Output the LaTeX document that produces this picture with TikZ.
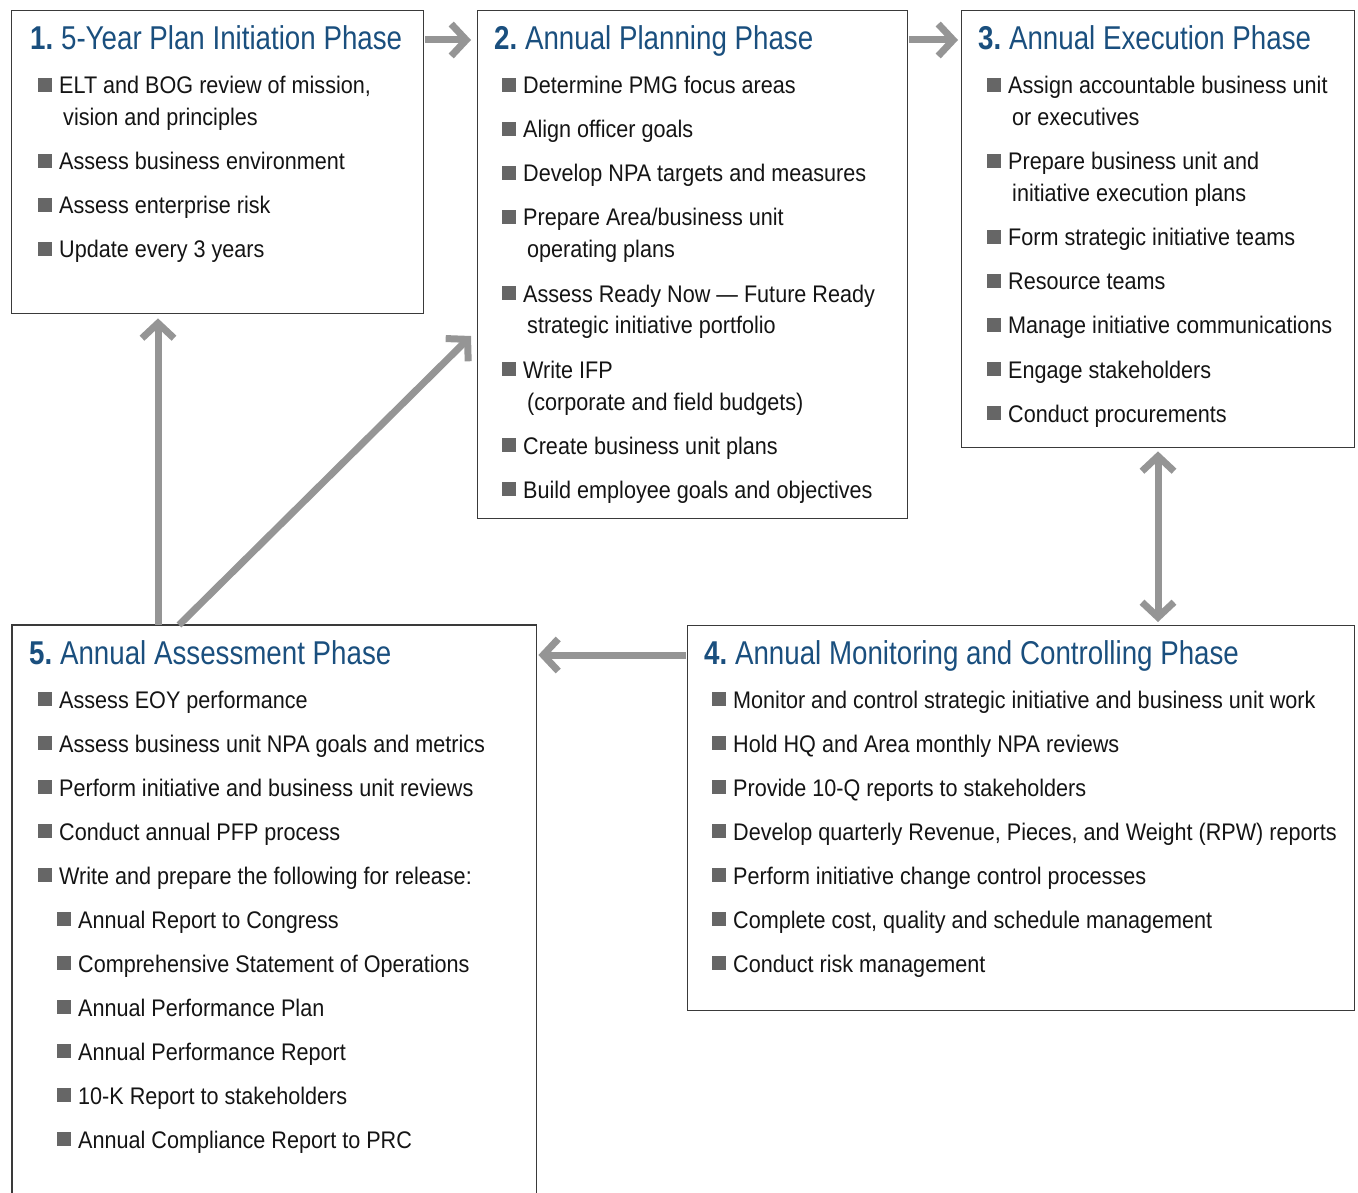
\documentclass[tikz,border=0pt]{standalone}
\usepackage{fontspec}
\setmainfont{Liberation Sans}[FakeStretch=0.9]
\newfontfamily\ttlfont{Liberation Sans}[FakeStretch=0.84]
\usetikzlibrary{arrows.meta,calc}
\definecolor{ttlblue}{HTML}{1A4F7E}
\definecolor{arrgray}{HTML}{959595}
\definecolor{bulgray}{HTML}{666666}
\definecolor{boxline}{HTML}{3A3A3A}
\definecolor{txtblack}{HTML}{141414}
\tikzset{
  box/.style={draw=boxline, line width=1.4pt, inner sep=0pt, anchor=north west},
  txt/.style={inner sep=0pt, anchor=base west, text=txtblack, font=\fontsize{24}{28}\selectfont},
  ttl/.style={inner sep=0pt, anchor=base west, text=ttlblue, font=\ttlfont\fontsize{33}{38}\selectfont},
  arr/.style={draw=arrgray, line width=7pt, -{Straight Barb[length=15pt,width=32pt]}},
  darr/.style={draw=arrgray, line width=7pt, {Straight Barb[length=15pt,width=32pt]}-{Straight Barb[length=15pt,width=32pt]}},
}
\newcommand\bitem[4]{%
  \fill[bulgray] ($(#1,#2)+(0,-2)$) rectangle ++(14,-14);
  \node[txt] (#3) at ($(#1,#2)+(21,0)$) {#4};}
\newcommand\citem[4]{%
  \node[txt] (#3) at ($(#1,#2)+(25,0)$) {#4};}
\newcommand\num[1]{\textbf{#1}\hspace{-2.5pt}}
\begin{document}
\begin{tikzpicture}[x=1pt,y=-1pt]
\useasboundingbox (0,0) rectangle (1358,1193);
% boxes
\node[box, minimum width=412pt, minimum height=303pt] (p1) at (11,10) {};
\node[box, minimum width=430pt, minimum height=508pt] (p2) at (477,10) {};
\node[box, minimum width=393pt, minimum height=437pt] (p3) at (961,10) {};
\node[box, minimum width=667pt, minimum height=385pt] (p4) at (687,625) {};
\node[box, draw=none, minimum width=523pt, minimum height=570pt] (p5) at (12,625) {};
\draw[boxline, line width=1.4pt] (p5.south west) -- (p5.north west) -- (p5.north east) -- (p5.south east);
% titles
\node[ttl] (h1) at (30,50) {\num{1.} 5-Year Plan Initiation Phase};
\node[ttl] (h2) at (494,50) {\num{2.} Annual Planning Phase};
\node[ttl] (h3) at (978,50) {\num{3.} Annual Execution Phase};
\node[ttl] (h4) at (704,664) {\num{4.} Annual Monitoring and Controlling Phase};
\node[ttl] (h5) at (29,664) {\num{5.} Annual Assessment Phase};
% box 1
\bitem{38}{94}{a1}{ELT and BOG review of mission,}
\citem{38}{126}{a1b}{vision and principles}
\bitem{38}{170}{a2}{Assess business environment}
\bitem{38}{214}{a3}{Assess enterprise risk}
\bitem{38}{258}{a4}{Update every 3 years}
% box 2
\bitem{502}{94}{b1}{Determine PMG focus areas}
\bitem{502}{138}{b2}{Align officer goals}
\bitem{502}{182}{b3}{Develop NPA targets and measures}
\bitem{502}{226}{b4}{Prepare Area/business unit}
\citem{502}{258}{b4b}{operating plans}
\bitem{502}{302}{b5}{Assess Ready Now — Future Ready}
\citem{502}{334}{b5b}{strategic initiative portfolio}
\bitem{502}{378}{b6}{Write IFP}
\citem{502}{410}{b6b}{(corporate and field budgets)}
\bitem{502}{454}{b7}{Create business unit plans}
\bitem{502}{498}{b8}{Build employee goals and objectives}
% box 3
\bitem{987}{94}{c1}{Assign accountable business unit}
\citem{987}{126}{c1b}{or executives}
\bitem{987}{170}{c2}{Prepare business unit and}
\citem{987}{202}{c2b}{initiative execution plans}
\bitem{987}{246}{c3}{Form strategic initiative teams}
\bitem{987}{290}{c4}{Resource teams}
\bitem{987}{334}{c5}{Manage initiative communications}
\bitem{987}{378}{c6}{Engage stakeholders}
\bitem{987}{422}{c7}{Conduct procurements}
% box 4
\bitem{712}{708}{d1}{Monitor and control strategic initiative and business unit work}
\bitem{712}{752}{d2}{Hold HQ and Area monthly NPA reviews}
\bitem{712}{796}{d3}{Provide 10-Q reports to stakeholders}
\bitem{712}{840}{d4}{Develop quarterly Revenue, Pieces, and Weight (RPW) reports}
\bitem{712}{884}{d5}{Perform initiative change control processes}
\bitem{712}{928}{d6}{Complete cost, quality and schedule management}
\bitem{712}{972}{d7}{Conduct risk management}
% box 5
\bitem{38}{708}{e1}{Assess EOY performance}
\bitem{38}{752}{e2}{Assess business unit NPA goals and metrics}
\bitem{38}{796}{e3}{Perform initiative and business unit reviews}
\bitem{38}{840}{e4}{Conduct annual PFP process}
\bitem{38}{884}{e5}{Write and prepare the following for release:}
\bitem{57}{928}{f1}{Annual Report to Congress}
\bitem{57}{972}{f2}{Comprehensive Statement of Operations}
\bitem{57}{1016}{f3}{Annual Performance Plan}
\bitem{57}{1060}{f4}{Annual Performance Report}
\bitem{57}{1104}{f5}{10-K Report to stakeholders}
\bitem{57}{1148}{f6}{Annual Compliance Report to PRC}
% connectors
\draw[arr] ($(p1.north east)+(1,30)$) -- ($(p2.north west)+(-6,30)$);
\draw[arr] ($(p2.north east)+(1,30)$) -- ($(p3.north west)+(-3,30)$);
\draw[darr] ($(p3.south west)+(197,3)$) -- ($(p4.north west)+(471,-3)$);
\draw[arr] ($(p4.north west)+(-1,30)$) -- ($(p5.north east)+(2,30)$);
\draw[arr] ($(p5.north west)+(146,0)$) -- ($(p1.south west)+(147,4)$);
\draw[arr] ($(p5.north west)+(167,0)$) -- ($(p2.north west)+(-6,326)$);
\end{tikzpicture}
\end{document}
